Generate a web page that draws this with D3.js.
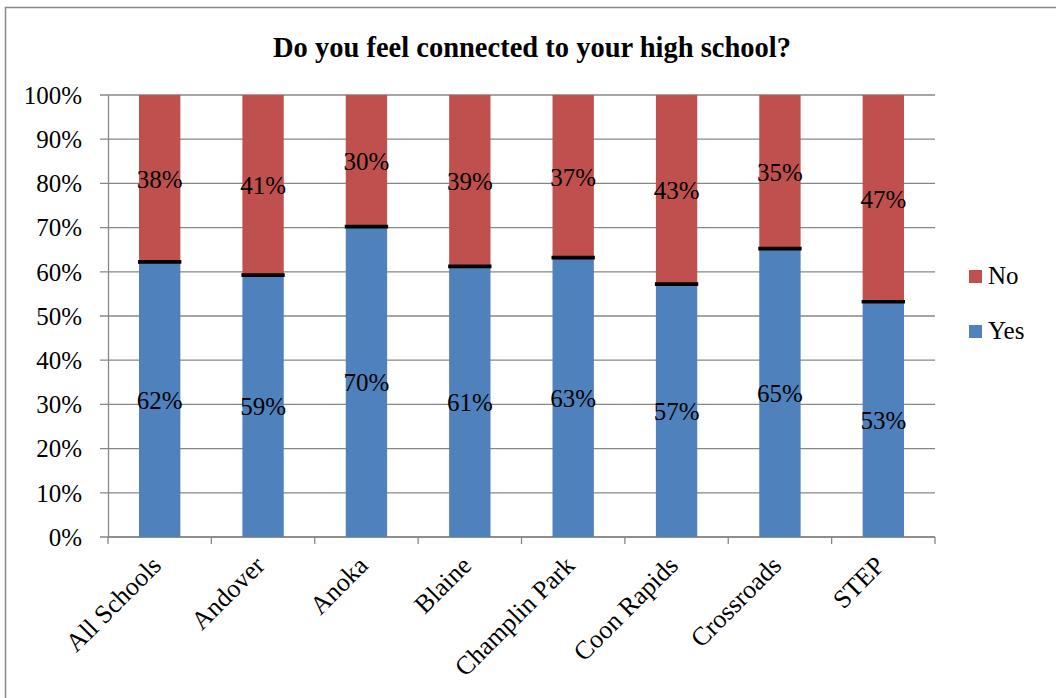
<!DOCTYPE html>
<html><head><meta charset="utf-8">
<script src="https://cdn.jsdelivr.net/npm/d3@7"></script>
<style>body{margin:0;background:#fff}svg{display:block}svg text{font-family:"Liberation Serif","DejaVu Serif",serif !important}</style>
</head><body><svg id="c" width="1056" height="698"></svg>
<script>
const categories = ["All Schools","Andover","Anoka","Blaine","Champlin Park","Coon Rapids","Crossroads","STEP"];
const yesValues = [62,59,70,61,63,57,65,53];
const noValues = [38,41,30,39,37,43,35,47];
const yTicks = [0,10,20,30,40,50,60,70,80,90,100];
const seriesNames = ["No","Yes"];
const colors = {Yes:"#4F81BD", No:"#C0504D"};
const title = "Do you feel connected to your high school?";

const FONT = "Liberation Serif";
const svg = d3.select("#c");
const pLeft = 108, pRight = 935, pTop = 95, pBottom = 537;
const grid = "#878787";

svg.append("rect").attr("x",5.5).attr("y",7.5).attr("width",1060).attr("height",700)
  .attr("fill","none").attr("stroke","#898989").attr("stroke-width",1.5);

svg.append("text").attr("x",532).attr("y",57).attr("text-anchor","middle").attr("font-family",FONT)
  .attr("font-weight","bold").attr("font-size",28.5).text(title);

const x = d3.scaleBand().domain(categories).range([pLeft,pRight]).paddingInner(0.6).paddingOuter(0.3);
const y = d3.scaleLinear().domain([0,100]).range([pBottom,pTop]);

// gridlines
svg.append("g").selectAll("line").data(yTicks).join("line")
  .attr("x1",pLeft-8).attr("x2",pRight).attr("y1",d=>y(d)).attr("y2",d=>y(d))
  .attr("stroke",grid).attr("stroke-width",1.3);

// y axis
const yAxis = d3.axisLeft(y).tickValues(yTicks).tickFormat(d=>d+"%").tickSize(0).tickPadding(26);
const ga = svg.append("g").attr("transform",`translate(${pLeft},0)`).call(yAxis);
ga.attr("font-family",FONT).attr("font-size",25);
ga.select(".domain").attr("stroke",grid).attr("stroke-width",1.3);
ga.selectAll("text").attr("fill","#000").attr("dy","0.33em");

// x axis baseline + ticks at category boundaries
const step = x.step();
const boundaries = d3.range(categories.length+1).map(i=>pLeft+i*step);
svg.append("line").attr("x1",pLeft).attr("x2",pRight).attr("y1",pBottom).attr("y2",pBottom).attr("stroke",grid).attr("stroke-width",1.3);
svg.append("g").selectAll("line").data(boundaries).join("line")
  .attr("x1",d=>d).attr("x2",d=>d).attr("y1",pBottom).attr("y2",pBottom+7).attr("stroke",grid).attr("stroke-width",1.3);

const data = categories.map((c,i)=>({cat:c, Yes:yesValues[i], No:noValues[i]}));
const stack = d3.stack().keys(["Yes","No"])(data);

const g = svg.append("g");
stack.forEach(s=>{
  g.append("g").selectAll("rect").data(s).join("rect")
    .attr("x",d=>x(d.data.cat)).attr("width",x.bandwidth())
    .attr("y",d=>y(d[1])).attr("height",d=>y(d[0])-y(d[1]))
    .attr("fill",colors[s.key]);
});
// black junction line
g.append("g").selectAll("line").data(stack[0]).join("line")
  .attr("x1",d=>x(d.data.cat)-1).attr("x2",d=>x(d.data.cat)+x.bandwidth()+1)
  .attr("y1",d=>y(d[1])-1).attr("y2",d=>y(d[1])-1)
  .attr("stroke","#000").attr("stroke-width",3.7);

// value labels
stack.forEach(s=>{
  g.append("g").selectAll("text").data(s).join("text")
    .attr("x",d=>x(d.data.cat)+x.bandwidth()/2)
    .attr("y",d=>y((d[0]+d[1])/2))
    .attr("dy","0.35em").attr("text-anchor","middle").attr("font-size",25).attr("font-family",FONT)
    .text(d=>(d[1]-d[0])+"%");
});

// x labels
svg.append("g").selectAll("text").data(categories).join("text")
  .attr("transform",d=>`translate(${x(d)+x.bandwidth()/2+3},${pBottom+30}) rotate(-45)`)
  .attr("text-anchor","end").attr("font-size",26).attr("font-family",FONT).text(d=>d);

// legend
const lg = svg.append("g");
seriesNames.forEach((n,i)=>{
  const yy = 270 + i*55;
  lg.append("rect").attr("x",969).attr("y",yy).attr("width",13).attr("height",13).attr("fill",colors[n]);
  lg.append("text").attr("x",988).attr("y",yy+14).attr("font-size",25).attr("font-family",FONT).text(n);
});
</script></body></html>
